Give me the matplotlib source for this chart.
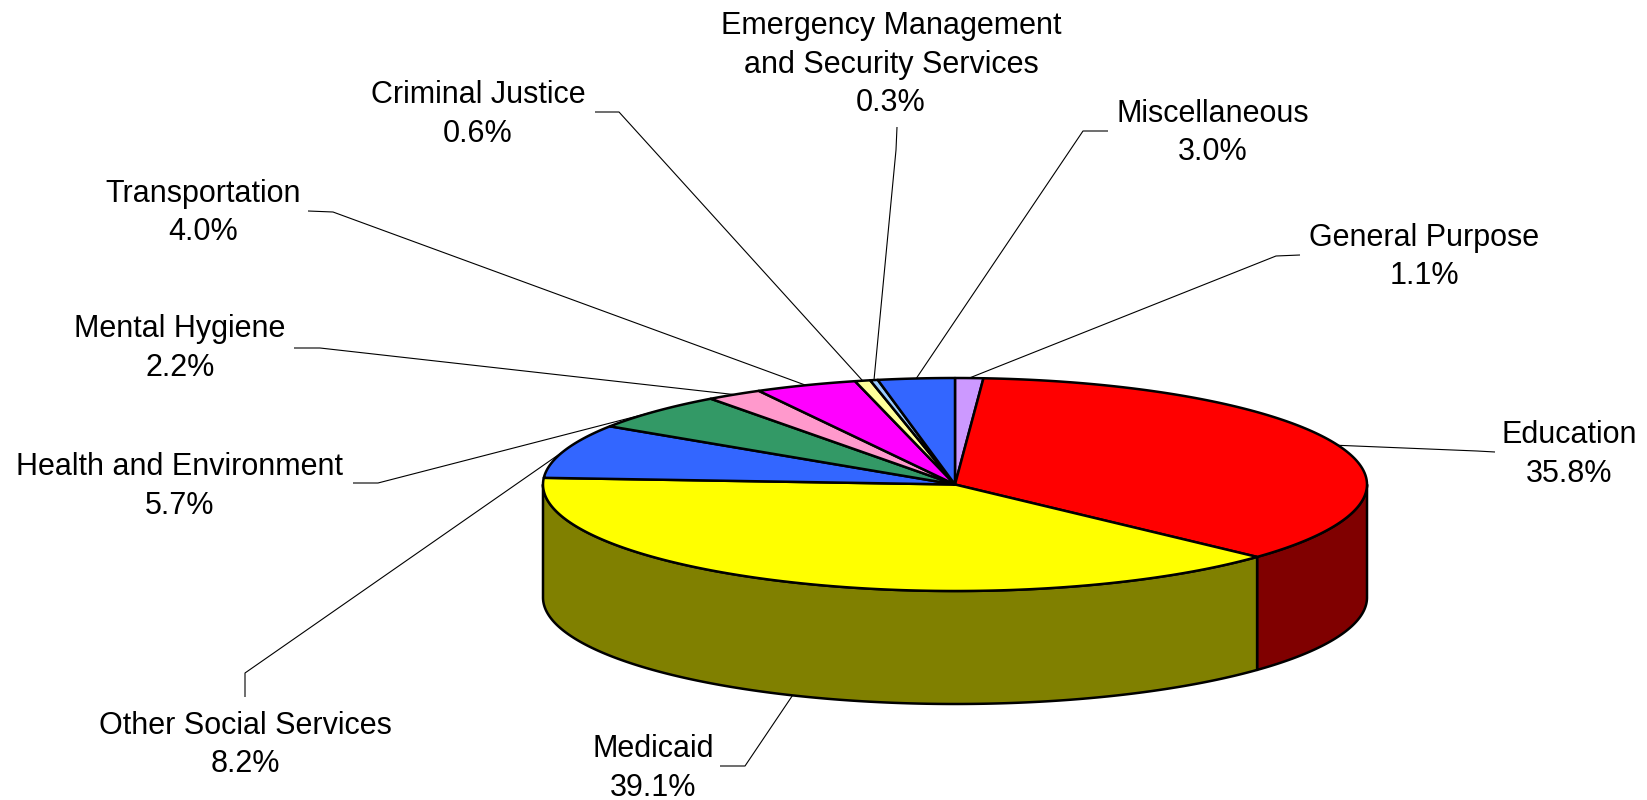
import numpy as np
import matplotlib
matplotlib.use("Agg")
import matplotlib.pyplot as plt
from matplotlib.patches import Polygon

# ---------------- data ----------------
categories = ["General Purpose", "Education", "Medicaid", "Other Social Services",
              "Health and Environment", "Mental Hygiene", "Transportation",
              "Criminal Justice", "Emergency Management\nand Security Services",
              "Miscellaneous"]
shares = [1.1, 35.8, 39.1, 8.2, 5.7, 2.2, 4.0, 0.6, 0.3, 3.0]
colors = ["#CC99FF", "#FF0000", "#FFFF00", "#3366FF", "#339966",
          "#FF99CC", "#FF00FF", "#FFFF99", "#99CCFF", "#3366FF"]

# ---------------- layout (pixels) ----------------
W, H = 1647, 800
CX, CY, RX, RY, DEPTH = 955, 484.5, 412, 106.5, 113
FS = 22
LINE_GAP = 38.5
# label centre x, first baseline y
label_pos = [(1424, 246), (1569, 443), (653, 757), (245, 734), (180, 475),
             (180, 337), (203, 202), (478, 103), (891, 34), (1213, 122)]
# leader polyline points from text side to elbow
leader_pts = [[(1300, 255), (1276, 256)],
              [(1495, 452), (1477, 451)],
              [(720, 766), (745, 766)],
              [(245, 697), (245, 673)],
              [(353, 483), (378, 483)],
              [(294, 348), (320, 348)],
              [(308, 211), (333, 212)],
              [(595, 112), (619, 112)],
              [(897, 127), (896, 150)],
              [(1108, 131), (1083, 131)]]
leader_bottom = [False, False, True, False, False, False, False, False, False, False]

fig = plt.figure(figsize=(W / 100, H / 100), dpi=100)
ax = fig.add_axes([0, 0, 1, 1])
ax.set_xlim(0, W)
ax.set_ylim(H, 0)
ax.axis("off")


def rim(theta, dy=0.0):
    return CX + RX * np.sin(theta), CY - RY * np.cos(theta) + dy


def darker(c, f=0.5):
    rgb = np.array(matplotlib.colors.to_rgb(c))
    return tuple(rgb * f)


total = float(sum(shares))
cum = np.concatenate([[0], np.cumsum(shares)]) / total
angles = cum * 2 * np.pi
EDGE_LW = 1.8

# leader lines (below the pie)
for i in range(len(shares)):
    mid = 0.5 * (angles[i] + angles[i + 1])
    ex, ey = rim(mid, DEPTH if leader_bottom[i] else 0.0)
    pts = leader_pts[i] + [(ex, ey)]
    xs, ys = zip(*pts)
    ax.plot(xs, ys, color="black", lw=0.8, zorder=1, solid_capstyle="butt")

# side walls (front half: theta in [pi/2, 3pi/2])
for i in range(len(shares)):
    t1 = max(angles[i], np.pi / 2)
    t2 = min(angles[i + 1], 3 * np.pi / 2)
    if t2 <= t1:
        continue
    t = np.linspace(t1, t2, 200)
    x, y = rim(t)
    xb, yb = rim(t[::-1], DEPTH)
    poly = np.column_stack([np.concatenate([x, xb]), np.concatenate([y, yb])])
    ax.add_patch(Polygon(poly, closed=True, facecolor=darker(colors[i]),
                         edgecolor="black", lw=EDGE_LW, joinstyle="round", zorder=2))

# top face
for i in range(len(shares)):
    t = np.linspace(angles[i], angles[i + 1], max(int(400 * shares[i] / total), 4))
    x, y = rim(t)
    poly = np.column_stack([np.concatenate([[CX], x]), np.concatenate([[CY], y])])
    ax.add_patch(Polygon(poly, closed=True, facecolor=colors[i],
                         edgecolor="black", lw=EDGE_LW, joinstyle="round", zorder=3))

# labels
for i, name in enumerate(categories):
    lines = name.split("\n") + [f"{shares[i]:.1f}%"]
    x0, y0 = label_pos[i]
    for k, line in enumerate(lines):
        ax.text(x0, y0 + k * LINE_GAP, line, ha="center", va="baseline",
                fontsize=FS, family=["Liberation Sans", "DejaVu Sans"], color="black",
                zorder=5)

fig.savefig("out.png", dpi=100, facecolor="white")
